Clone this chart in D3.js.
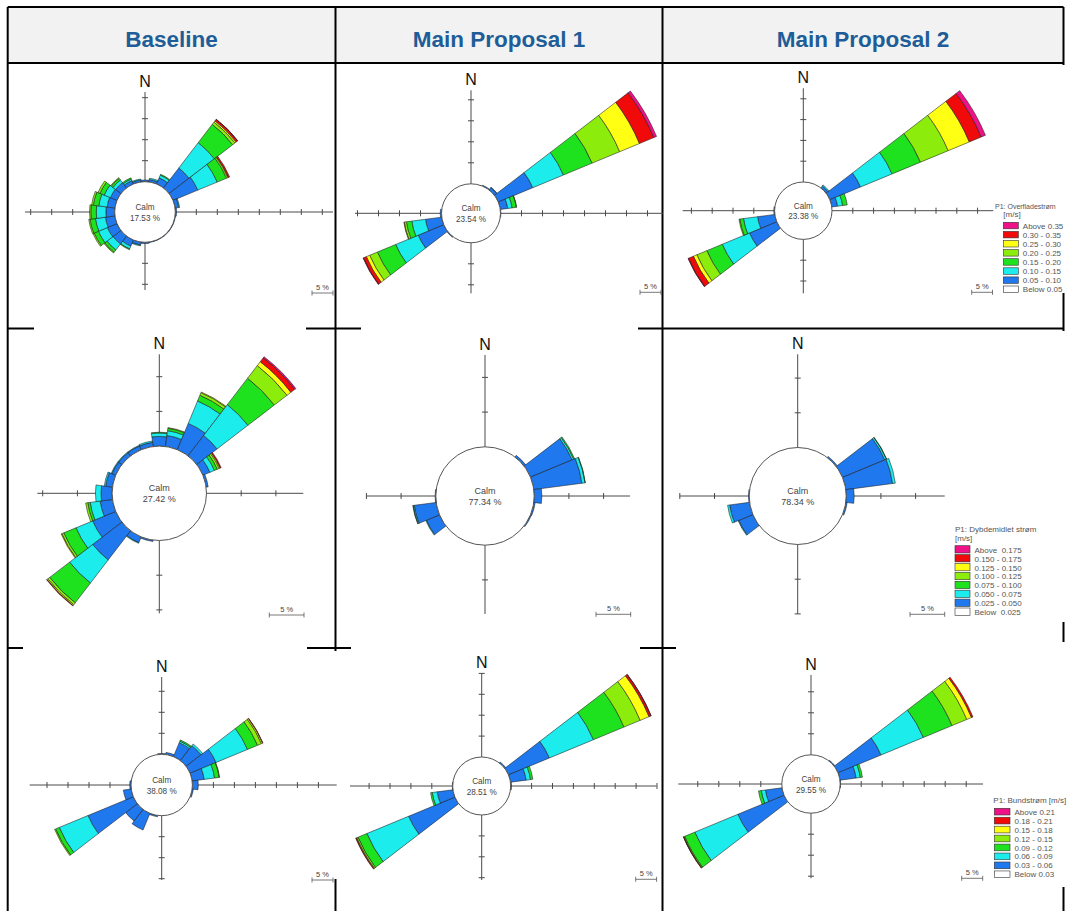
<!DOCTYPE html>
<html>
<head>
<meta charset="utf-8">
<script src="https://cdn.jsdelivr.net/npm/d3@7"></script>
<style>
  body { margin: 0; background: #fff; }
  svg { display: block; }
  text { font-family: "Liberation Sans", Arial, sans-serif; }
</style>
</head>
<body>
<svg id="chart" width="1069" height="911"></svg>
<script>
// ---------- data ----------
const columnTitles = ["Baseline", "Main Proposal 1", "Main Proposal 2"];

// calm share (%) per row (surface, depth-averaged, bottom) and column
const calmSurface = [17.53, 23.54, 23.38];
const calmDepth   = [27.42, 77.34, 78.34];
const calmBottom  = [38.08, 28.51, 29.55];

// each row: [direction (deg), then % per speed class from lowest to highest]
const surfaceBaseline = [
  [0, 0.4], [15, 0.6, 0.3], [30, 1.6, 0.7, 0.2],
  [45, 6.0, 7.6, 5.5, 0.7, 0.35, 0.45, 0.05],
  [60, 6.4, 5.0, 2.4, 0.35, 0.15, 0.3],
  [75, 0.9, 0.2], [90, 0.3], [105, 0.1], [120, 0.1], [135, 0.1], [150, 0.1], [165, 0.1],
  [180, 0.3], [195, 0.7, 0.2], [210, 1.6, 0.7, 0.2],
  [225, 2.4, 1.8, 0.7, 0.2], [240, 2.5, 2.3, 1.1, 0.3], [255, 2.3, 2.4, 1.3, 0.3],
  [270, 2.1, 2.3, 1.3, 0.3], [285, 1.9, 2.0, 1.3, 0.4], [300, 1.7, 1.6, 1.1, 0.5],
  [315, 1.6, 0.8, 0.5, 0.2], [330, 0.9, 0.4, 0.3], [345, 0.5, 0.2]
];
const surfaceProposal1 = [
  [30, 0.2], [45, 0.7, 0.1],
  [60, 8.9, 7.9, 7.4, 7.1, 5.1, 3.7, 0.7],
  [75, 1.8, 1.05, 1.0, 0.1], [90, 0.1], [225, 0.2],
  [240, 6.6, 5.8, 4.7, 2.0, 0.85, 0.75, 0.1],
  [255, 3.9, 3.3, 1.3, 0.5, 0.1], [270, 0.3]
];
const surfaceProposal2 = [
  [45, 0.6, 0.3],
  [60, 8.0, 8.2, 7.4, 7.2, 5.5, 3.1, 1.1],
  [75, 1.4, 1.25, 1.1],
  [240, 7.1, 7.1, 4.0, 2.6, 0.9, 1.3, 0.1],
  [255, 4.2, 3.4, 0.9, 0.2], [270, 0.2]
];
const depthBaseline = [
  [0, 1.4, 0.5, 0.1], [15, 1.6, 0.7, 0.35, 0.1], [30, 4.1, 3.5, 0.9, 0.4, 0.1],
  [45, 3.7, 5.6, 4.8, 2.3, 0.7, 0.7, 0.2],
  [60, 1.1, 0.7, 0.45, 0.3, 0.15, 0.15], [75, 0.3],
  [195, 0.2], [210, 0.9, 0.1],
  [225, 5.3, 4.2, 3.6, 0.35, 0.15, 0.07],
  [240, 3.6, 2.6, 1.9, 0.3, 0.1],
  [255, 1.8, 1.45, 0.35, 0.3], [270, 1.6, 0.8], [285, 1.0, 0.2],
  [300, 0.6, 0.1], [315, 0.6, 0.1], [330, 0.6, 0.1], [345, 0.6, 0.2]
];
const depthProposal1 = [
  [45, 0.3], [60, 6.5, 0.25, 0.15], [75, 7.0, 0.45, 0.05], [90, 1.1], [105, 0.2], [120, 0.15],
  [240, 2.05, 0.1], [255, 3.2, 0.15, 0.05], [270, 0.1]
];
const depthProposal2 = [
  [45, 0.2], [60, 6.6, 0.25, 0.05], [75, 6.8, 0.4], [90, 1.15], [105, 0.2],
  [240, 2.2, 0.1], [255, 2.9, 0.3], [270, 0.1]
];
const bottomBaseline = [
  [0, 0.2], [15, 0.5], [30, 3.6, 0.4, 0.3], [45, 4.5, 0.5],
  [60, 6.7, 8.1, 2.6, 1.0, 0.3, 0.1],
  [75, 2.9, 2.5, 1.1, 0.1], [90, 1.4], [105, 0.3],
  [195, 0.3], [210, 4.3], [225, 3.5],
  [240, 11.7, 7.4, 0.95, 0.25], [255, 1.9], [270, 0.3]
];
const bottomProposal1 = [
  [45, 0.3], [60, 10.6, 11.4, 7.9, 4.2, 2.3, 0.5, 0.05],
  [75, 3.8, 1.05, 0.55], [90, 0.2],
  [240, 12.0, 10.8, 2.3, 0.3, 0.15, 0.15],
  [255, 3.8, 1.2, 0.4], [270, 0.1]
];
const bottomProposal2 = [
  [45, 0.2], [60, 11.1, 10.9, 7.4, 3.8, 1.2, 0.4],
  [75, 3.9, 1.0, 0.5], [90, 0.1],
  [240, 11.9, 11.1, 2.6, 0.2, 0.1, 0.05],
  [255, 4.0, 1.0, 0.65]
];

// legend texts, highest class first
const surfaceClasses = ["Above 0.35", "0.30 - 0.35", "0.25 - 0.30", "0.20 - 0.25", "0.15 - 0.20", "0.10 - 0.15", "0.05 - 0.10", "Below 0.05"];
const depthClasses   = ["Above  0.175", "0.150 - 0.175", "0.125 - 0.150", "0.100 - 0.125", "0.075 - 0.100", "0.050 - 0.075", "0.025 - 0.050", "Below  0.025"];
const bottomClasses  = ["Above 0.21", "0.18 - 0.21", "0.15 - 0.18", "0.12 - 0.15", "0.09 - 0.12", "0.06 - 0.09", "0.03 - 0.06", "Below 0.03"];
const legendTitles = [["P1: Overfladestrøm", "[m/s]"], ["P1: Dybdemidlet strøm", "[m/s]"], ["P1: Bundstrøm [m/s]"]];

const scaleLabel = "5 %";
const scaleValue = 5;

// ---------- styling ----------
const classColors = ["#1f78ee", "#1cecec", "#1fe21f", "#8ced0c", "#ffff14", "#f00a0a", "#ee1188"];
const headerBlue = "#1e5d97";

// rose geometry per cell: centre, calm radius, px per 5 %, axis arm lengths [N,E,S,W], scale bar start
const cellLayout = [
  [
    { cx: 145,   cy: 212,   r0: 30.3, step: 21,   arms: [120, 188, 78, 120],   bar: [312, 293] },
    { cx: 471,   cy: 213.3, r0: 29.5, step: 21,   arms: [123, 192, 80, 116],   bar: [640, 292.3] },
    { cx: 803.3, cy: 210.7, r0: 28.7, step: 20.8, arms: [122.4, 190, 82.6, 120.6], bar: [971.7, 292.3] }
  ],
  [
    { cx: 159.3, cy: 493.3, r0: 47.2, step: 34.7, arms: [139, 144, 120, 122],  bar: [269.3, 615] },
    { cx: 485,   cy: 496,   r0: 49.2, step: 34.7, arms: [141, 145, 118, 119],  bar: [596, 614.3] },
    { cx: 797.7, cy: 496,   r0: 48.5, step: 34.7, arms: [141.7, 147, 118, 118], bar: [910, 614.3] }
  ],
  [
    { cx: 161.7, cy: 785,   r0: 30.7, step: 21,   arms: [108, 175, 95, 132],   bar: [312, 880] },
    { cx: 481.7, cy: 786,   r0: 29,   step: 20.9, arms: [112.7, 175, 94, 131.7], bar: [635.7, 879.3] },
    { cx: 811,   cy: 784,   r0: 29.2, step: 21,   arms: [109, 172, 94.3, 132.7], bar: [961.7, 878.3] }
  ]
];
// the first title line may get its own x and size so it stays inside the cell
const legendLayout = [
  { x: 1003.3, titleX: 995, titleSize: 7, titleY: 208.5, boxY: 222.3, boxW: 15,   boxH: 6.5, gap: 9.1 },
  { x: 955,    titleX: 955, titleSize: 8, titleY: 532,   boxY: 545.7, boxW: 15,   boxH: 7.3, gap: 8.9 },
  { x: 994.3,  titleX: 993.3, titleSize: 8, titleY: 803, boxY: 808.3, boxW: 15.7, boxH: 6.7, gap: 8.95 }
];

const roseData = [
  [surfaceBaseline, surfaceProposal1, surfaceProposal2],
  [depthBaseline, depthProposal1, depthProposal2],
  [bottomBaseline, bottomProposal1, bottomProposal2]
];
const calmData = [calmSurface, calmDepth, calmBottom];
const classLabels = [surfaceClasses, depthClasses, bottomClasses];

// ---------- table frame ----------
const svg = d3.select("#chart");
const colX = [7.7, 335.5, 662.5, 1063.5];
const rowY = [7, 63, 328.5, 648, 912];

svg.append("rect").attr("x", colX[0]).attr("y", rowY[0])
  .attr("width", colX[3] - colX[0]).attr("height", rowY[1] - rowY[0]).attr("fill", "#f2f2f2");

const frame = svg.append("g").attr("stroke", "#000").attr("stroke-width", 2);
rowY.slice(0, 4).forEach(y => frame.append("line").attr("x1", colX[0]).attr("x2", colX[3]).attr("y1", y).attr("y2", y));
colX.forEach(x => frame.append("line").attr("x1", x).attr("x2", x).attr("y1", rowY[0]).attr("y2", rowY[4]));

// plot images sit on top of parts of the grid
const covers = [
  [34, 322, 272, 12], [361, 322, 277, 12],
  [23, 642, 284, 12], [351, 642, 289, 12], [676, 642, 394, 12],
  [1056, 65, 14, 228], [1056, 331, 14, 291], [1056, 651, 14, 236],
  [329, 651, 12, 228]
];
svg.append("g").selectAll("rect").data(covers).join("rect")
  .attr("x", d => d[0]).attr("y", d => d[1]).attr("width", d => d[2]).attr("height", d => d[3])
  .attr("fill", "#fff");

// column headers
svg.append("g").selectAll("text").data(columnTitles).join("text")
  .attr("x", (d, i) => (colX[i] + colX[i + 1]) / 2).attr("y", 47)
  .attr("text-anchor", "middle").attr("font-size", 22.5).attr("font-weight", "bold")
  .attr("fill", headerBlue).text(d => d);

// ---------- roses ----------
const arc = d3.arc();
const toRad = d => d * Math.PI / 180;

function drawRose(L, sectors, calm) {
  const g = svg.append("g");
  const radius = d3.scaleLinear().domain([0, scaleValue]).range([L.r0, L.r0 + L.step]);
  const dirs = [[0, -1], [1, 0], [0, 1], [-1, 0]];

  // compass arms with 5 % ticks
  const axes = g.append("g").attr("stroke", "#4a4a4a").attr("stroke-width", 1);
  dirs.forEach(([dx, dy], i) => {
    const len = L.arms[i];
    axes.append("line")
      .attr("x1", L.cx).attr("y1", L.cy)
      .attr("x2", L.cx + dx * len).attr("y2", L.cy + dy * len);
    for (let p = scaleValue; radius(p) <= len + 0.5; p += scaleValue) {
      const d = radius(p);
      const px = L.cx + dx * d, py = L.cy + dy * d;
      axes.append("line")
        .attr("x1", px - dy * 3).attr("y1", py - dx * 3)
        .attr("x2", px + dy * 3).attr("y2", py + dx * 3);
    }
  });

  // stacked petals, 15 degree sectors
  const petals = [];
  sectors.forEach(row => {
    const dir = row[0];
    let cum = 0;
    row.slice(1).forEach((v, k) => {
      if (!v) return;
      petals.push({ dir, k, from: cum, to: cum + v });
      cum += v;
    });
  });
  g.append("g").attr("transform", `translate(${L.cx},${L.cy})`)
    .selectAll("path").data(petals).join("path")
    .attr("d", d => arc({
      innerRadius: radius(d.from), outerRadius: radius(d.to),
      startAngle: toRad(d.dir - 7.5), endAngle: toRad(d.dir + 7.5)
    }))
    .attr("fill", d => classColors[d.k])
    .attr("stroke", "#1b1b1b").attr("stroke-width", 0.55).attr("stroke-linejoin", "round");

  // calm circle
  g.append("circle").attr("cx", L.cx).attr("cy", L.cy).attr("r", L.r0)
    .attr("fill", "#fff").attr("stroke", "#555").attr("stroke-width", 1);
  const fs = L.r0 > 40 ? 9 : 8.2;
  g.append("text").attr("x", L.cx).attr("y", L.cy - 2).attr("text-anchor", "middle")
    .attr("font-size", fs).attr("fill", "#444").text("Calm");
  g.append("text").attr("x", L.cx).attr("y", L.cy + 8.6).attr("text-anchor", "middle")
    .attr("font-size", fs).attr("fill", "#444").text(d3.format(".2f")(calm) + " %");

  // north marker
  g.append("text").attr("x", L.cx).attr("y", L.cy - L.arms[0] - 5).attr("text-anchor", "middle")
    .attr("font-size", 16).attr("fill", "#111").text("N");

  // scale bar
  const bx = L.bar[0], by = L.bar[1], bw = radius(scaleValue) - radius(0);
  const sb = g.append("g").attr("stroke", "#555").attr("stroke-width", 0.8);
  sb.append("line").attr("x1", bx).attr("x2", bx + bw).attr("y1", by).attr("y2", by);
  sb.append("line").attr("x1", bx).attr("x2", bx).attr("y1", by - 2.5).attr("y2", by + 2.5);
  sb.append("line").attr("x1", bx + bw).attr("x2", bx + bw).attr("y1", by - 2.5).attr("y2", by + 2.5);
  g.append("text").attr("x", bx + bw / 2).attr("y", by - 3.3).attr("text-anchor", "middle")
    .attr("font-size", 7.5).attr("fill", "#444").text(scaleLabel);
}

roseData.forEach((row, r) => row.forEach((sectors, c) => drawRose(cellLayout[r][c], sectors, calmData[r][c])));

// ---------- legends ----------
legendLayout.forEach((L, r) => {
  const g = svg.append("g");
  legendTitles[r].forEach((t, i) => {
    g.append("text")
      .attr("x", i === 0 ? L.titleX : L.x).attr("y", L.titleY + i * 8.8)
      .attr("font-size", i === 0 ? L.titleSize : 8).attr("fill", "#555").text(t);
  });
  classLabels[r].forEach((lab, i) => {
    const y = L.boxY + i * L.gap;
    g.append("rect").attr("x", L.x).attr("y", y).attr("width", L.boxW).attr("height", L.boxH)
      .attr("fill", i < 7 ? classColors[6 - i] : "#fff")
      .attr("stroke", "#333").attr("stroke-width", 0.6);
    g.append("text").attr("x", L.x + L.boxW + 4.5).attr("y", y + L.boxH - 0.3)
      .attr("font-size", 8).attr("fill", "#555").style("white-space", "pre").text(lab);
  });
});
</script>
</body>
</html>
